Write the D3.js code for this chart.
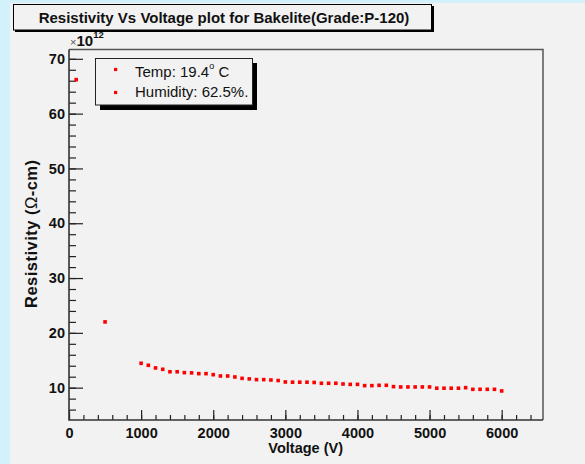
<!DOCTYPE html>
<html><head><meta charset="utf-8">
<script src="https://cdn.jsdelivr.net/npm/d3@7"></script>
<style>body{margin:0;background:#d2f1fb;} svg{display:block;font-family:"Liberation Sans",Arial,Helvetica,sans-serif;}</style>
</head><body><svg id="c" width="585" height="464"></svg>
<script>
// Data (resistivity in units of 10^12 ohm-cm)
const voltage = [100, 500,
  1000, 1100, 1200, 1300, 1400, 1500, 1600, 1700, 1800, 1900,
  2000, 2100, 2200, 2300, 2400, 2500, 2600, 2700, 2800, 2900,
  3000, 3100, 3200, 3300, 3400, 3500, 3600, 3700, 3800, 3900,
  4000, 4100, 4200, 4300, 4400, 4500, 4600, 4700, 4800, 4900,
  5000, 5100, 5200, 5300, 5400, 5500, 5600, 5700, 5800, 5900, 6000];
const resistivity = [66.2, 22.0,
  14.45, 14.08, 13.6, 13.35, 12.9, 12.9, 12.74, 12.7, 12.56, 12.56,
  12.37, 12.13, 12.13, 11.95, 11.7, 11.6, 11.47, 11.47, 11.4, 11.3,
  11.04, 11.0, 11.0, 11.0, 10.95, 10.8, 10.8, 10.8, 10.67, 10.6,
  10.6, 10.37, 10.37, 10.43, 10.43, 10.19, 10.13, 10.13, 10.13, 10.13,
  10.13, 9.9, 9.9, 9.9, 9.9, 10.0, 9.7, 9.7, 9.7, 9.7, 9.4];
const xTickLabels = [0, 1000, 2000, 3000, 4000, 5000, 6000];
const yTickLabels = [10, 20, 30, 40, 50, 60, 70];
const titleText = "Resistivity Vs Voltage plot for Bakelite(Grade:P-120)";
const legendLines = ["Temp: 19.4", "Humidity: 62.5%."];

const svg = d3.select("#c");
const W = 585, H = 464;
const L = 69, R = 543, T = 49.5, B = 420;

svg.append("rect").attr("width", W).attr("height", H).attr("fill", "#d2f1fb");
svg.append("rect").attr("x", 10).attr("y", 3).attr("width", W - 10).attr("height", H - 3).attr("fill", "#f2f2f2");

const x = d3.scaleLinear().domain([0, 6573]).range([L, R]);
const y = d3.scaleLinear().domain([4.1, 71.7]).range([B, T]);

// frame top/right
svg.append("path").attr("d", `M${L},${T}H${R}V${B}`).attr("fill", "none").attr("stroke", "#555").attr("stroke-width", 1.5);

// minor ticks
const xMinor = d3.range(0, 6501, 200);
const yMinor = d3.range(6, 71, 2);
const gxm = svg.append("g").attr("transform", `translate(0,${B})`)
  .call(d3.axisBottom(x).tickValues(xMinor).tickSize(-5).tickSizeOuter(0).tickFormat(""));
const gym = svg.append("g").attr("transform", `translate(${L},0)`)
  .call(d3.axisLeft(y).tickValues(yMinor).tickSize(-7).tickSizeOuter(0).tickFormat(""));
[gxm, gym].forEach(g => { g.select(".domain").remove(); g.selectAll("line").attr("stroke", "#222").attr("stroke-width", 1.2); });

// major
const gx = svg.append("g").attr("transform", `translate(0,${B})`)
  .call(d3.axisBottom(x).tickValues(xTickLabels).tickSize(-10).tickSizeOuter(0).tickPadding(8).tickFormat(d3.format("d")));
const gy = svg.append("g").attr("transform", `translate(${L},0)`)
  .call(d3.axisLeft(y).tickValues(yTickLabels).tickSize(-14).tickSizeOuter(0).tickPadding(4).tickFormat(d3.format("d")));
[gx, gy].forEach(g => {
  g.select(".domain").remove();
  g.selectAll("line").attr("stroke", "#222").attr("stroke-width", 1.2);
  g.selectAll("text").attr("font-size", 14.5).attr("font-weight", "bold").attr("fill", "#111")
    .attr("font-family", '"Liberation Sans",Arial,sans-serif');
});

// axis lines
svg.append("path").attr("d", `M${L},${T}V${B}H${R}`).attr("fill", "none").attr("stroke", "#333").attr("stroke-width", 1.6);

// exponent label
const ex = svg.append("text").attr("x", 70).attr("y", 46).attr("fill", "#111");
ex.append("tspan").attr("font-size", 11).attr("fill", "#555").text("×");
ex.append("tspan").attr("font-size", 15).attr("font-weight", "bold").text("10");
ex.append("tspan").attr("font-size", 9.5).attr("font-weight", "bold").attr("dy", -8).text("12");

// data points
svg.append("g").selectAll("rect").data(voltage.map((v, i) => [v, resistivity[i]])).join("rect")
  .attr("x", d => x(d[0]) - 1.8).attr("y", d => y(d[1]) - 1.8)
  .attr("width", 3.6).attr("height", 3.6).attr("fill", "#ff0000");

// axis titles
svg.append("text").attr("x", 343).attr("y", 453).attr("text-anchor", "end")
  .attr("font-size", 14.5).attr("font-weight", "bold").attr("fill", "#111").text("Voltage (V)");
const yl = svg.append("text").attr("transform", "translate(37,234) rotate(-90)").attr("text-anchor", "middle")
  .attr("font-size", 16.5).attr("font-weight", "bold").attr("fill", "#111")
  .attr("textLength", 148).attr("lengthAdjust", "spacing");
yl.append("tspan").text("Resistivity (");
yl.append("tspan").attr("font-weight", "normal").text("Ω");
yl.append("tspan").text("-cm)");

// title box
svg.append("rect").attr("x", 15).attr("y", 6).attr("width", 419).attr("height", 26).attr("fill", "#000");
svg.append("rect").attr("x", 13.5).attr("y", 4.5).attr("width", 418).attr("height", 25.5)
  .attr("fill", "#f2f2f2").attr("stroke", "#000").attr("stroke-width", 1);
svg.append("text").attr("x", 224).attr("y", 22.5).attr("text-anchor", "middle")
  .attr("font-size", 15).attr("font-weight", "bold").attr("fill", "#111").text(titleText);

// legend
svg.append("rect").attr("x", 100).attr("y", 63).attr("width", 157).attr("height", 47).attr("fill", "#000");
svg.append("rect").attr("x", 95.5).attr("y", 58.5).attr("width", 157).attr("height", 46.5)
  .attr("fill", "#f2f2f2").attr("stroke", "#222").attr("stroke-width", 1);
const legY = [69.5, 92.5];
legendLines.forEach((t, i) => {
  svg.append("rect").attr("x", 114).attr("y", legY[i] - 1.6).attr("width", 3.2).attr("height", 3.2).attr("fill", "#ff0000");
  const tx = svg.append("text").attr("x", 135).attr("y", [77, 97][i]).attr("font-size", 15).attr("fill", "#111").text(t);
  if (i === 0) {
    tx.append("tspan").attr("font-size", 9).attr("dy", -8).text("o");
    tx.append("tspan").attr("dy", 8).text(" C");
  }
});
</script></body></html>
